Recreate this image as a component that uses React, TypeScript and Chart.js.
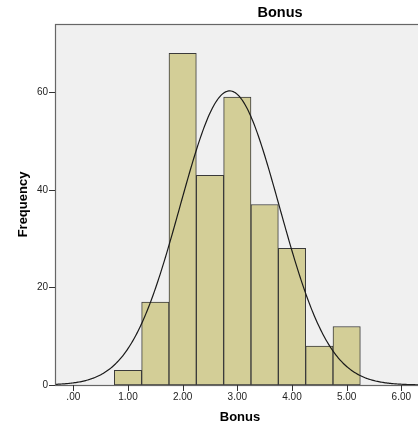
import React, { useEffect, useRef } from "react";
import { Chart, registerables } from "chart.js";

Chart.register(...registerables);

// Histogram bins (bin centres) and frequencies
const binCenters = [1.0, 1.5, 2.0, 2.5, 3.0, 3.5, 4.0, 4.5, 5.0];
const frequencies = [3, 17, 68, 43, 59, 37, 28, 8, 12];
const binWidth = 0.5;
const xTicks = [0, 1, 2, 3, 4, 5, 6];
const yTicks = [0, 20, 40, 60];
const xMin = -0.335;
const xMax = 6.433;
const yMax = 74;

// Normal curve fitted to the histogram data (mean / sd from the bins)
const total = frequencies.reduce((a, b) => a + b, 0);
const mean = binCenters.reduce((s, c, i) => s + c * frequencies[i], 0) / total;
const sd = Math.sqrt(
  binCenters.reduce((s, c, i) => s + (c - mean) * (c - mean) * frequencies[i], 0) / (total - 1)
);
const curvePoints: { x: number; y: number }[] = [];
for (let x = xMin; x <= xMax + 1e-9; x += 0.02) {
  const y =
    (total * binWidth) / (sd * Math.sqrt(2 * Math.PI)) *
    Math.exp(-((x - mean) * (x - mean)) / (2 * sd * sd));
  curvePoints.push({ x, y });
}

const FONT = '"Liberation Sans", Arial, sans-serif';
const TICK_LEN = 6;

const fmtX = (v: number) => {
  const s = v.toFixed(2);
  return s.startsWith("0") ? s.slice(1) : s;
};

export default function App() {
  const ref = useRef<HTMLCanvasElement | null>(null);

  useEffect(() => {
    if (!ref.current) return;
    const framePlugin = {
      id: "frame",
      beforeDraw(chart: any) {
        const { ctx, chartArea: a } = chart;
        ctx.save();
        ctx.fillStyle = "#F0F0F0";
        ctx.fillRect(a.left, a.top, a.right - a.left, a.bottom - a.top);
        ctx.restore();
      },
      afterDatasetsDraw(chart: any) {
        const { ctx, chartArea: a } = chart;
        ctx.save();
        ctx.strokeStyle = "#666";
        ctx.lineWidth = 1.2;
        ctx.strokeRect(a.left + 0.5, a.top + 0.5, a.right - a.left, a.bottom - a.top);
        // tick marks
        ctx.strokeStyle = "#333";
        ctx.lineWidth = 1;
        ctx.beginPath();
        const xs = chart.scales.x;
        xTicks.forEach((v) => {
          const px = Math.round(xs.getPixelForValue(v)) + 0.5;
          ctx.moveTo(px, a.bottom);
          ctx.lineTo(px, a.bottom + TICK_LEN);
        });
        const ys = chart.scales.y;
        yTicks.forEach((v) => {
          const py = Math.round(ys.getPixelForValue(v)) + 0.5;
          ctx.moveTo(a.left - TICK_LEN, py);
          ctx.lineTo(a.left, py);
        });
        ctx.stroke();
        ctx.restore();
      },
      afterDraw(chart: any) {
        const { ctx } = chart;
        ctx.save();
        ctx.fillStyle = "#000";
        ctx.font = `bold 14.5px ${FONT}`;
        ctx.textAlign = "center";
        ctx.textBaseline = "middle";
        ctx.fillText("Bonus", 280, 13);
        ctx.restore();
      },
    };

    const chart = new Chart(ref.current, {
      type: "bar",
      data: {
        datasets: [
          {
            type: "line",
            data: curvePoints,
            borderColor: "#1a1a1a",
            borderWidth: 1.2,
            pointRadius: 0,
            fill: false,
            tension: 0,
            order: 0,
          } as any,
          {
            type: "bar",
            data: binCenters.map((c, i) => ({ x: c, y: frequencies[i] })),
            backgroundColor: "#D3CE97",
            borderColor: "#3a3a3a",
            borderWidth: 1,
            borderSkipped: false,
            barPercentage: 1,
            categoryPercentage: 1,
            order: 1,
          } as any,
        ],
      },
      options: {
        animation: false,
        responsive: false,
        layout: { padding: { top: 24, right: 5, left: 0, bottom: 0 } },
        plugins: {
          legend: { display: false },
          tooltip: { enabled: false },
          title: { display: false },
        },
        scales: {
          x: {
            type: "linear",
            min: xMin,
            max: xMax,
            offset: false,
            afterBuildTicks: (s: any) => {
              s.ticks = xTicks.map((v) => ({ value: v }));
            },
            afterFit: (s: any) => {
              s.height = 43;
            },
            grid: { display: false, offset: false, drawTicks: false },
            border: { display: false },
            ticks: {
              color: "#222",
              font: { family: FONT, size: 10 },
              padding: TICK_LEN,
              maxRotation: 0,
              autoSkip: false,
              callback: (v: any) => fmtX(Number(v)),
            },
            title: {
              display: true,
              text: "Bonus",
              color: "#000",
              font: { family: FONT, size: 13, weight: "bold" },
              padding: { top: 0, bottom: 2.5 },
            },
          },
          y: {
            min: 0,
            max: yMax,
            afterBuildTicks: (s: any) => {
              s.ticks = yTicks.map((v) => ({ value: v }));
            },
            afterFit: (s: any) => {
              s.width = 55;
            },
            grid: { display: false, drawTicks: false },
            border: { display: false },
            ticks: {
              color: "#222",
              font: { family: FONT, size: 10 },
              padding: TICK_LEN + 1,
              autoSkip: false,
            },
            title: {
              display: true,
              text: "Frequency",
              color: "#000",
              font: { family: FONT, size: 13, weight: "bold" },
              padding: { top: 15.5, bottom: 0 },
            },
          },
        },
      } as any,
      plugins: [framePlugin],
    });
    return () => chart.destroy();
  }, []);

  return (
    <div
      style={{
        position: "fixed",
        left: 0,
        top: 0,
        width: 418,
        height: 428,
        overflow: "hidden",
        background: "#fff",
      }}
    >
      <canvas ref={ref} width={430} height={428} style={{ display: "block" }} />
    </div>
  );
}
